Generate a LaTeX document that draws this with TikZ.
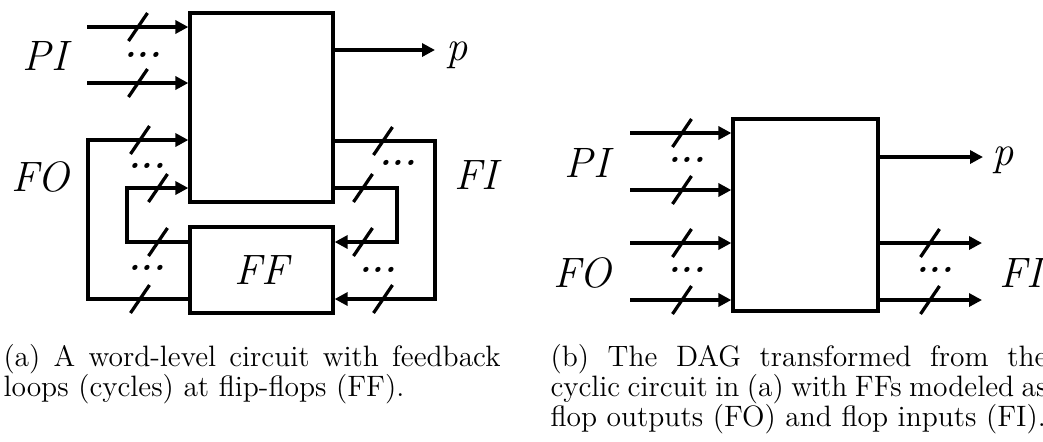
\documentclass[tikz,border=0pt]{standalone}
\usetikzlibrary{arrows.meta}
\begin{document}
\begin{tikzpicture}[x=0.4pt,y=-0.4pt,
  wire/.style={line width=1.3pt},
  arr/.style={wire,-{Triangle[length=5.2pt,width=5.2pt]}},
  blk/.style={draw,line width=1.3pt,inner sep=0pt},
  lab/.style={font=\fontsize{17}{20}\selectfont\itshape,inner sep=0pt},
  dts/.style={font=\fontsize{14}{16}\selectfont\bfseries\itshape,inner sep=0pt},
  captxt/.style={font=\fontsize{11.8}{12}\selectfont,inner sep=0pt,anchor=base west},
  busmark/.pic={\draw[wire] (-9.5,14) -- (9.5,-14);}
]
\useasboundingbox (0,0) rectangle (1043,441);

% ---------- (a) ----------
\node[blk,minimum width=57.2pt,minimum height=75.6pt] (A) at (261.5,107.5) {};
\node[blk,minimum width=57.2pt,minimum height=34.4pt,font=\fontsize{17}{20}\selectfont\itshape] (FF) at (261.5,270) {FF};

\coordinate (pi1) at (87,27);
\coordinate (pi2) at (87,83);
\coordinate (pout) at (435,50);
\coordinate (lo1) at (88,299);
\coordinate (lo2) at (88,140);
\coordinate (li1) at (127,242);
\coordinate (li2) at (127,188);
\coordinate (ro1) at (435,141);
\coordinate (ro2) at (435,299);
\coordinate (ri1) at (397,188);
\coordinate (ri2) at (397,242);

\draw[arr] (pi1) -- (pi1 -| A.west);
\draw[arr] (pi2) -- (pi2 -| A.west);
\draw[arr] (pout -| A.east) -- (pout);
\draw[arr] (lo1 -| FF.west) -- (lo1) -- (lo2) -- (lo2 -| A.west);
\draw[arr] (li1 -| FF.west) -- (li1) -- (li2) -- (li2 -| A.west);
\draw[arr] (ro1 -| A.east) -- (ro1) -- (ro2) -- (ro2 -| FF.east);
\draw[arr] (ri1 -| A.east) -- (ri1) -- (ri2) -- (ri2 -| FF.east);

\foreach \p in {(138,27),(138,83),(140,140),(158,188),(158,242),(140,299),
                (383,141),(363,188),(363,242),(383,299)}
  \pic at \p {busmark};

\node[dts] (da1) at (143,55) {...};
\node[dts] (da2) at (147,166) {...};
\node[dts] (da3) at (147,268) {...};
\node[dts] (da4) at (398,163) {...};
\node[dts] (da5) at (378,270) {...};

\node[lab] (PIa) at (45,56) {PI};
\node[lab] (FOa) at (40,177) {FO};
\node[lab] (FIa) at (476,175) {FI};
\node[lab] (pa) at (457,55) {p};

% ---------- (b) ----------
\node[blk,minimum width=58pt,minimum height=76.8pt] (B) at (805.5,215) {};

\coordinate (q1) at (630,133);
\coordinate (q2) at (630,190);
\coordinate (q3) at (630,243);
\coordinate (q4) at (630,300);
\coordinate (qout) at (983,157);
\coordinate (r1) at (982,243);
\coordinate (r2) at (982,300);

\draw[arr] (q1) -- (q1 -| B.west);
\draw[arr] (q2) -- (q2 -| B.west);
\draw[arr] (q3) -- (q3 -| B.west);
\draw[arr] (q4) -- (q4 -| B.west);
\draw[arr] (qout -| B.east) -- (qout);
\draw[arr] (r1 -| B.east) -- (r1);
\draw[arr] (r2 -| B.east) -- (r2);

\foreach \p in {(682,133),(682,190),(682,243),(682,300),(930,243),(930,300)}
  \pic at \p {busmark};

\node[dts] (db1) at (687,160) {...};
\node[dts] (db2) at (687,270) {...};
\node[dts] (db3) at (935,270) {...};

\node[lab] (PIb) at (587,163) {PI};
\node[lab] (FOb) at (582,273) {FO};
\node[lab] (pb) at (1003,160) {p};
\node[lab,anchor=west] (FIb) at (999,273) {FI};

% ---------- captions ----------
\node[captxt] (capa1) at (3,366) {\makebox[198.8pt][s]{(a) A word-level circuit with feedback}};
\node[captxt] (capa2) at (3,396) {loops (cycles) at flip-flops (FF).};
\node[captxt] (capb1) at (550,366) {\makebox[198.8pt][s]{(b) The DAG transformed from the}};
\node[captxt] (capb2) at (550,396) {\makebox[198.8pt][s]{cyclic circuit in (a) with FFs modeled as}};
\node[captxt] (capb3) at (550,426) {flop outputs (FO) and flop inputs (FI).};
\end{tikzpicture}
\end{document}
